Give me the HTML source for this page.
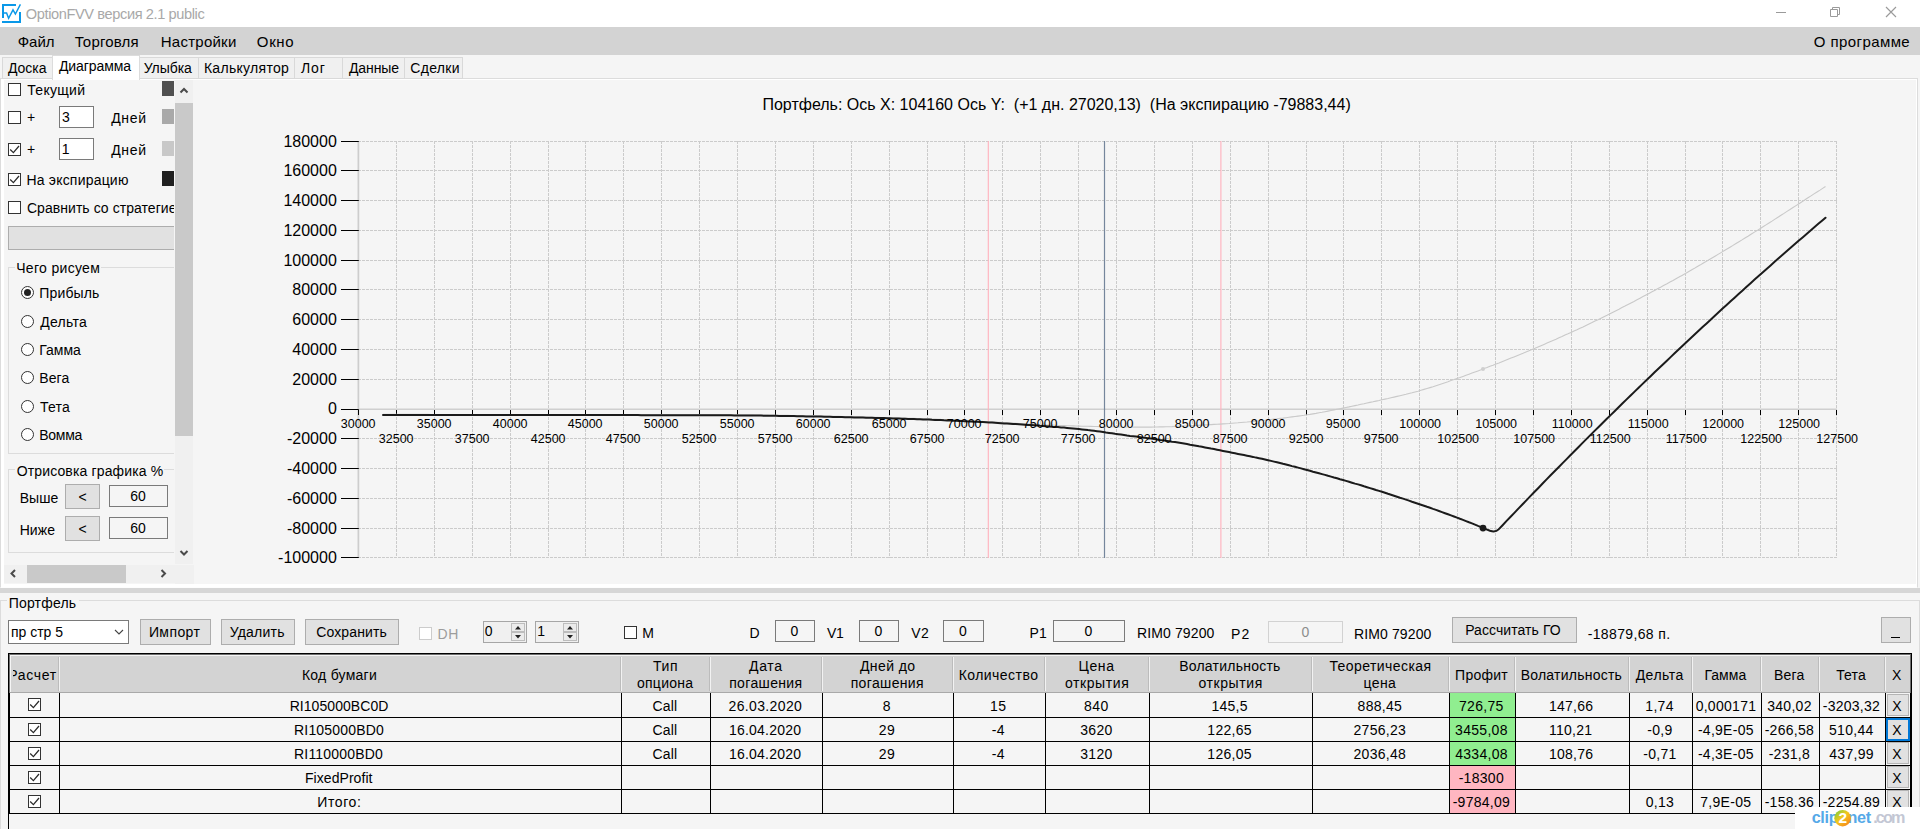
<!DOCTYPE html>
<html lang="ru"><head><meta charset="utf-8"><title>OptionFVV версия 2.1 public</title>
<style>
html,body{margin:0;padding:0}
body{width:1920px;height:829px;overflow:hidden;background:#f5f5f5;position:relative;
font-family:"Liberation Sans",sans-serif;font-size:13.5px;color:#000}
.a{position:absolute;box-sizing:border-box}
.t{position:absolute;white-space:pre;line-height:1;display:block}
svg{position:absolute;left:0;top:0;overflow:visible}
</style></head><body>
<div class="a" style="left:0px;top:0px;width:1920px;height:27px;background:#ffffff;"></div>
<svg width="1920" height="27" viewBox="0 0 1920 27">
<path d="M3 18 V5 H16 M2 22 H20 V12" fill="none" stroke="#0a98e8" stroke-width="2"/>
<path d="M4 13 H6.6 L8.6 18.3 L13 9.8 L15.4 14 L20.4 4.4" fill="none" stroke="#0a98e8" stroke-width="1.45" stroke-linejoin="miter"/>
<g stroke="#9a9a9a" stroke-width="1" fill="none">
<path d="M1776 12.5 H1786"/>
<path d="M1830.5 9.5 H1837.5 V16.5 H1830.5 Z"/>
<path d="M1832.5 9 V7.5 H1839.5 V14.5 H1838"/>
<path d="M1886 7 L1896 17 M1896 7 L1886 17" stroke-width="1.15"/>
</g></svg>
<span class="t" style="left:25.84px;top:7.04px;font-size:14.6px;letter-spacing:-0.392px;color:#a8a8a8;">OptionFVV версия 2.1 public</span>
<div class="a" style="left:0px;top:27px;width:1920px;height:28px;background:#d3d3d3;"></div>
<span class="t" style="left:17.64px;top:34.20px;font-size:15px;letter-spacing:0.017px;">Файл</span>
<span class="t" style="left:74.70px;top:34.20px;font-size:15px;letter-spacing:0.189px;">Торговля</span>
<span class="t" style="left:160.80px;top:34.20px;font-size:15px;letter-spacing:0.244px;">Настройки</span>
<span class="t" style="left:256.82px;top:34.20px;font-size:15px;letter-spacing:0.646px;">Окно</span>
<span class="t" style="left:1813.83px;top:34.20px;font-size:15px;letter-spacing:0.412px;">О программе</span>
<div class="a" style="left:0px;top:78px;width:1918px;height:510px;background:#ffffff;border:1px solid #dcdcdc;border-bottom-color:#fdfdfd;"></div>
<div class="a" style="left:4px;top:80px;width:1912px;height:504px;background:#f5f5f5;"></div>
<div class="a" style="left:2px;top:57px;width:51px;height:22px;background:#f0f0f0;border:1px solid #d9d9d9;"></div>
<span class="t" style="left:7.93px;top:61.15px;font-size:14px;letter-spacing:-0.029px;">Доска</span>
<div class="a" style="left:139px;top:57px;width:61px;height:22px;background:#f0f0f0;border:1px solid #d9d9d9;"></div>
<span class="t" style="left:143.65px;top:61.15px;font-size:14px;letter-spacing:-0.044px;">Улыбка</span>
<div class="a" style="left:198px;top:57px;width:98px;height:22px;background:#f0f0f0;border:1px solid #d9d9d9;"></div>
<span class="t" style="left:203.88px;top:61.15px;font-size:14px;letter-spacing:0.300px;">Калькулятор</span>
<div class="a" style="left:294px;top:57px;width:50px;height:22px;background:#f0f0f0;border:1px solid #d9d9d9;"></div>
<span class="t" style="left:300.89px;top:61.15px;font-size:14px;letter-spacing:0.953px;">Лог</span>
<div class="a" style="left:342px;top:57px;width:64px;height:22px;background:#f0f0f0;border:1px solid #d9d9d9;"></div>
<span class="t" style="left:348.93px;top:61.15px;font-size:14px;letter-spacing:-0.082px;">Данные</span>
<div class="a" style="left:404px;top:57px;width:59px;height:22px;background:#f0f0f0;border:1px solid #d9d9d9;"></div>
<span class="t" style="left:410.30px;top:61.15px;font-size:14px;letter-spacing:0.304px;">Сделки</span>
<div class="a" style="left:52px;top:55px;width:88px;height:25px;background:#ffffff;border:1px solid #dcdcdc;border-bottom:none;"></div>
<span class="t" style="left:58.93px;top:59.15px;font-size:14px;letter-spacing:-0.087px;">Диаграмма</span>
<div class="a" style="left:8px;top:83px;width:13px;height:13px;background:#ffffff;border:1px solid #333333;"></div>
<span class="t" style="left:27.32px;top:82.65px;font-size:14.0px;letter-spacing:0.277px;">Текущий</span>
<div class="a" style="left:162px;top:81px;width:12px;height:15px;background:#505050;"></div>
<div class="a" style="left:8px;top:111px;width:13px;height:13px;background:#ffffff;border:1px solid #333333;"></div>
<span class="t" style="left:26.94px;top:109.95px;font-size:14.0px;">+</span>
<div class="a" style="left:59px;top:106px;width:35px;height:22px;background:#ffffff;border:1px solid #7a7a7a;"></div>
<span class="t" style="left:61.88px;top:109.95px;font-size:14.0px;">3</span>
<span class="t" style="left:111.13px;top:110.55px;font-size:14.0px;letter-spacing:0.740px;">Дней</span>
<div class="a" style="left:162px;top:109px;width:12px;height:15px;background:#a9a9a9;"></div>
<div class="a" style="left:8px;top:143px;width:13px;height:13px;background:#ffffff;border:1px solid #333333;"></div>
<svg width="13" height="13" viewBox="0 0 13 13" style="left:8px;top:143px"><path d="M2.2 6.5 L5.4 9.6 L11 3.0" fill="none" stroke="#2a2a2a" stroke-width="1.25"/></svg>
<span class="t" style="left:26.94px;top:141.95px;font-size:14.0px;">+</span>
<div class="a" style="left:59px;top:138px;width:35px;height:22px;background:#ffffff;border:1px solid #7a7a7a;"></div>
<span class="t" style="left:61.75px;top:141.95px;font-size:14.0px;">1</span>
<span class="t" style="left:111.13px;top:142.75px;font-size:14.0px;letter-spacing:0.740px;">Дней</span>
<div class="a" style="left:162px;top:141px;width:12px;height:15px;background:#c8c8c8;"></div>
<div class="a" style="left:8px;top:173px;width:13px;height:13px;background:#ffffff;border:1px solid #333333;"></div>
<svg width="13" height="13" viewBox="0 0 13 13" style="left:8px;top:173px"><path d="M2.2 6.5 L5.4 9.6 L11 3.0" fill="none" stroke="#2a2a2a" stroke-width="1.25"/></svg>
<span class="t" style="left:26.48px;top:172.65px;font-size:14.0px;letter-spacing:0.199px;">На экспирацию</span>
<div class="a" style="left:162px;top:171px;width:12px;height:15px;background:#202020;"></div>
<div class="a" style="left:8px;top:201px;width:13px;height:13px;background:#ffffff;border:1px solid #333333;"></div>
<div class="a" style="left:26px;top:198px;width:148px;height:20px;overflow:hidden">
<span class="t" style="left:0.90px;top:2.65px;font-size:14.0px;letter-spacing:0.055px;">Сравнить со стратегией</span>
</div>
<div class="a" style="left:8px;top:226px;width:166px;height:24px;background:#e1e1e1;border:1px solid #adadad;border-right:none;"></div>
<div class="a" style="left:8px;top:267px;width:166px;height:187px;border:1px solid #dcdcdc;border-right:none;"></div>
<div class="a" style="left:15px;top:260px;width:86px;height:14px;background:#f5f5f5;"></div>
<span class="t" style="left:16.21px;top:261.15px;font-size:14.0px;letter-spacing:0.318px;">Чего рисуем</span>
<div class="a" style="left:21.0px;top:286.0px;width:13px;height:13px;background:#ffffff;border:1px solid #333333;border-radius:50%;"></div>
<div class="a" style="left:24.0px;top:289.0px;width:7px;height:7px;background:#222222;border-radius:50%;"></div>
<span class="t" style="left:39.28px;top:286.15px;font-size:14.0px;letter-spacing:0.149px;">Прибыль</span>
<div class="a" style="left:21.0px;top:315.0px;width:13px;height:13px;background:#ffffff;border:1px solid #333333;border-radius:50%;"></div>
<span class="t" style="left:40.33px;top:315.15px;font-size:14.0px;letter-spacing:0.241px;">Дельта</span>
<div class="a" style="left:21.0px;top:343.0px;width:13px;height:13px;background:#ffffff;border:1px solid #333333;border-radius:50%;"></div>
<span class="t" style="left:39.28px;top:343.15px;font-size:14.0px;letter-spacing:-0.025px;">Гамма</span>
<div class="a" style="left:21.0px;top:371.0px;width:13px;height:13px;background:#ffffff;border:1px solid #333333;border-radius:50%;"></div>
<span class="t" style="left:39.28px;top:371.15px;font-size:14.0px;letter-spacing:0.097px;">Вега</span>
<div class="a" style="left:21.0px;top:400.0px;width:13px;height:13px;background:#ffffff;border:1px solid #333333;border-radius:50%;"></div>
<span class="t" style="left:40.12px;top:400.15px;font-size:14.0px;letter-spacing:0.165px;">Тета</span>
<div class="a" style="left:21.0px;top:428.0px;width:13px;height:13px;background:#ffffff;border:1px solid #333333;border-radius:50%;"></div>
<span class="t" style="left:39.28px;top:428.15px;font-size:14.0px;letter-spacing:-0.262px;">Вомма</span>
<div class="a" style="left:8px;top:469px;width:166px;height:84px;border:1px solid #dcdcdc;border-right:none;"></div>
<div class="a" style="left:15px;top:463px;width:149px;height:14px;background:#f5f5f5;"></div>
<span class="t" style="left:16.67px;top:464.45px;font-size:14.0px;letter-spacing:0.141px;">Отрисовка графика %</span>
<span class="t" style="left:19.68px;top:490.95px;font-size:14.0px;letter-spacing:0.095px;">Выше</span>
<div class="a" style="left:65px;top:484px;width:35px;height:25px;background:#e1e1e1;border:1px solid #adadad;"></div>
<span class="t" style="left:78.40px;top:489.65px;font-size:14.0px;">&lt;</span>
<div class="a" style="left:109px;top:485px;width:59px;height:22px;background:#f5f5f5;border:1px solid #7a7a7a;"></div>
<span class="t" style="left:130.14px;top:488.95px;font-size:14.0px;">60</span>
<span class="t" style="left:19.68px;top:522.75px;font-size:14.0px;letter-spacing:0.082px;">Ниже</span>
<div class="a" style="left:65px;top:516px;width:35px;height:25px;background:#e1e1e1;border:1px solid #adadad;"></div>
<span class="t" style="left:78.40px;top:521.65px;font-size:14.0px;">&lt;</span>
<div class="a" style="left:109px;top:517px;width:59px;height:22px;background:#f5f5f5;border:1px solid #7a7a7a;"></div>
<span class="t" style="left:130.14px;top:520.75px;font-size:14.0px;">60</span>
<div class="a" style="left:175px;top:80px;width:18px;height:484px;background:#f0f0f0;"></div>
<div class="a" style="left:175px;top:103px;width:18px;height:333px;background:#c9c9c9;"></div>
<div class="a" style="left:4px;top:565px;width:190px;height:18px;background:#f0f0f0;"></div>
<div class="a" style="left:27px;top:565px;width:99px;height:18px;background:#c9c9c9;"></div>
<div class="a" style="left:175px;top:565px;width:19px;height:19px;background:#f0f0f0;"></div>
<svg width="1920" height="829"><g fill="none" stroke="#4a4a4a" stroke-width="2"><path d="M180.5 92.5 L184 89 L187.5 92.5"/><path d="M180.5 551 L184 554.5 L187.5 551"/><path d="M15 570 L11.5 573.5 L15 577"/><path d="M161.5 570 L165 573.5 L161.5 577"/></g></svg>
<div class="a" style="left:0px;top:588px;width:1920px;height:5px;background:#d6d6d6;"></div>
<div class="a" style="left:0px;top:593px;width:1920px;height:236px;background:#f5f5f5;"></div>
<svg width="1920" height="829" viewBox="0 0 1920 829" font-family="Liberation Sans, sans-serif">
<path d="M396.5 141V558M434.5 141V558M472.5 141V558M510.5 141V558M548.5 141V558M585.5 141V558M623.5 141V558M661.5 141V558M699.5 141V558M737.5 141V558M775.5 141V558M813.5 141V558M851.5 141V558M889.5 141V558M927.5 141V558M964.5 141V558M1002.5 141V558M1040.5 141V558M1078.5 141V558M1116.5 141V558M1154.5 141V558M1192.5 141V558M1230.5 141V558M1268.5 141V558M1306.5 141V558M1343.5 141V558M1381.5 141V558M1419.5 141V558M1457.5 141V558M1495.5 141V558M1533.5 141V558M1571.5 141V558M1609.5 141V558M1647.5 141V558M1685.5 141V558M1722.5 141V558M1760.5 141V558M1798.5 141V558M1836.5 141V558M358 141.5H1837M358 170.5H1837M358 200.5H1837M358 230.5H1837M358 260.5H1837M358 289.5H1837M358 319.5H1837M358 349.5H1837M358 379.5H1837M358 438.5H1837M358 468.5H1837M358 498.5H1837M358 528.5H1837M358 557.5H1837" fill="none" stroke="#cbcbcb" stroke-width="1" stroke-dasharray="3 1"/>
<path d="M358.4 141V558" stroke="#cdcdcd" stroke-width="1.7" fill="none"/>
<path d="M358 409.3H1837" stroke="#cfcfcf" stroke-width="1.5" fill="none"/>
<path d="M341 141.5H358.8M341 170.5H358.8M341 200.5H358.8M341 230.5H358.8M341 260.5H358.8M341 289.5H358.8M341 319.5H358.8M341 349.5H358.8M341 379.5H358.8M341 409.5H358.8M341 438.5H358.8M341 468.5H358.8M341 498.5H358.8M341 528.5H358.8M341 557.5H358.8M358.5 410V415M396.5 410V415M434.5 410V415M472.5 410V415M510.5 410V415M548.5 410V415M585.5 410V415M623.5 410V415M661.5 410V415M699.5 410V415M737.5 410V415M775.5 410V415M813.5 410V415M851.5 410V415M889.5 410V415M927.5 410V415M964.5 410V415M1002.5 410V415M1040.5 410V415M1078.5 410V415M1116.5 410V415M1154.5 410V415M1192.5 410V415M1230.5 410V415M1268.5 410V415M1306.5 410V415M1343.5 410V415M1381.5 410V415M1419.5 410V415M1457.5 410V415M1495.5 410V415M1533.5 410V415M1571.5 410V415M1609.5 410V415M1647.5 410V415M1685.5 410V415M1722.5 410V415M1760.5 410V415M1798.5 410V415M1836.5 410V415" stroke="#000" stroke-width="1" fill="none"/>
<path d="M988.3 141V558M1220.9 141V558" stroke="#ffb3bf" stroke-width="1.15" fill="none"/>
<path d="M1104.5 141V558" stroke="#75869c" stroke-width="1.2" fill="none"/>
<path d="M383.0 414.4L386.0 414.4L389.0 414.4L392.0 414.4L395.0 414.4L398.0 414.4L401.0 414.4L404.0 414.4L407.0 414.4L410.0 414.4L413.0 414.4L416.0 414.4L419.0 414.4L422.0 414.4L425.0 414.4L428.0 414.4L431.0 414.5L434.0 414.5L437.0 414.5L440.0 414.5L443.0 414.5L446.0 414.5L449.0 414.5L452.0 414.5L455.0 414.5L458.0 414.5L461.0 414.5L464.0 414.5L467.0 414.5L470.0 414.5L473.0 414.5L476.0 414.5L479.0 414.5L482.0 414.5L485.0 414.5L488.0 414.5L491.0 414.5L494.0 414.5L497.0 414.5L500.0 414.5L503.0 414.5L506.0 414.5L509.0 414.5L512.0 414.5L515.0 414.5L518.0 414.5L521.0 414.5L524.0 414.5L527.0 414.5L530.0 414.5L533.0 414.5L536.0 414.5L539.0 414.5L542.0 414.5L545.0 414.5L548.0 414.5L551.0 414.5L554.0 414.5L557.0 414.5L560.0 414.5L563.0 414.5L566.0 414.5L569.0 414.5L572.0 414.5L575.0 414.5L578.0 414.5L581.0 414.5L584.0 414.5L587.0 414.5L590.0 414.5L593.0 414.5L596.0 414.5L599.0 414.5L602.0 414.5L605.0 414.5L608.0 414.5L611.0 414.5L614.0 414.5L617.0 414.5L620.0 414.5L623.0 414.5L626.0 414.5L629.0 414.5L632.0 414.5L635.0 414.5L638.0 414.5L641.0 414.5L644.0 414.5L647.0 414.5L650.0 414.5L653.0 414.5L656.0 414.5L659.0 414.5L662.0 414.5L665.0 414.5L668.0 414.5L671.0 414.5L674.0 414.5L677.0 414.5L680.0 414.5L683.0 414.5L686.0 414.5L689.0 414.5L692.0 414.5L695.0 414.5L698.0 414.5L701.0 414.5L704.0 414.6L707.0 414.6L710.0 414.6L713.0 414.6L716.0 414.6L719.0 414.6L722.0 414.7L725.0 414.7L728.0 414.7L731.0 414.7L734.0 414.7L737.0 414.8L740.0 414.8L743.0 414.8L746.0 414.9L749.0 414.9L752.0 414.9L755.0 415.0L758.0 415.0L761.0 415.0L764.0 415.1L767.0 415.1L770.0 415.2L773.0 415.2L776.0 415.2L779.0 415.3L782.0 415.3L785.0 415.4L788.0 415.4L791.0 415.5L794.0 415.5L797.0 415.6L800.0 415.6L803.0 415.7L806.0 415.8L809.0 415.8L812.0 415.9L815.0 415.9L818.0 416.0L821.0 416.1L824.0 416.1L827.0 416.2L830.0 416.2L833.0 416.3L836.0 416.4L839.0 416.4L842.0 416.5L845.0 416.6L848.0 416.6L851.0 416.7L854.0 416.8L857.0 416.9L860.0 416.9L863.0 417.0L866.0 417.1L869.0 417.2L872.0 417.2L875.0 417.3L878.0 417.4L881.0 417.5L884.0 417.6L887.0 417.6L890.0 417.7L893.0 417.8L896.0 417.9L899.0 418.0L902.0 418.1L905.0 418.1L908.0 418.2L911.0 418.3L914.0 418.4L917.0 418.5L920.0 418.6L923.0 418.7L926.0 418.8L929.0 418.9L932.0 419.0L935.0 419.1L938.0 419.2L941.0 419.4L944.0 419.5L947.0 419.6L950.0 419.7L953.0 419.9L956.0 420.0L959.0 420.1L962.0 420.3L965.0 420.4L968.0 420.6L971.0 420.7L974.0 420.9L977.0 421.0L980.0 421.2L983.0 421.4L986.0 421.5L989.0 421.7L992.0 421.9L995.0 422.1L998.0 422.2L1001.0 422.4L1004.0 422.6L1007.0 422.8L1010.0 422.9L1013.0 423.1L1016.0 423.3L1019.0 423.5L1022.0 423.6L1025.0 423.8L1028.0 424.0L1031.0 424.1L1034.0 424.3L1037.0 424.4L1040.0 424.6L1043.0 424.7L1046.0 424.9L1049.0 425.0L1052.0 425.1L1055.0 425.2L1058.0 425.4L1061.0 425.5L1064.0 425.6L1067.0 425.7L1070.0 425.8L1073.0 425.9L1076.0 426.0L1079.0 426.1L1082.0 426.2L1085.0 426.2L1088.0 426.3L1091.0 426.4L1094.0 426.5L1097.0 426.5L1100.0 426.6L1103.0 426.7L1106.0 426.7L1109.0 426.8L1112.0 426.8L1115.0 426.9L1118.0 426.9L1121.0 427.0L1124.0 427.0L1127.0 427.0L1130.0 427.1L1133.0 427.1L1136.0 427.1L1139.0 427.1L1142.0 427.1L1145.0 427.1L1148.0 427.1L1151.0 427.1L1154.0 427.0L1157.0 427.0L1160.0 426.9L1163.0 426.9L1166.0 426.8L1169.0 426.7L1172.0 426.6L1175.0 426.4L1178.0 426.3L1181.0 426.2L1184.0 426.0L1187.0 425.9L1190.0 425.7L1193.0 425.6L1196.0 425.4L1199.0 425.3L1202.0 425.1L1205.0 424.9L1208.0 424.8L1211.0 424.6L1214.0 424.4L1217.0 424.3L1220.0 424.1L1223.0 423.9L1226.0 423.7L1229.0 423.5L1232.0 423.2L1235.0 423.0L1238.0 422.8L1241.0 422.5L1244.0 422.2L1247.0 422.0L1250.0 421.7L1253.0 421.4L1256.0 421.1L1259.0 420.8L1262.0 420.5L1265.0 420.2L1268.0 419.8L1271.0 419.5L1274.0 419.1L1277.0 418.8L1280.0 418.4L1283.0 418.1L1286.0 417.7L1289.0 417.3L1292.0 416.9L1295.0 416.5L1298.0 416.1L1301.0 415.7L1304.0 415.3L1307.0 414.8L1310.0 414.4L1313.0 413.9L1316.0 413.4L1319.0 412.8L1322.0 412.3L1325.0 411.7L1328.0 411.1L1331.0 410.5L1334.0 409.9L1337.0 409.3L1340.0 408.7L1343.0 408.1L1346.0 407.5L1349.0 406.9L1352.0 406.2L1355.0 405.6L1358.0 405.0L1361.0 404.3L1364.0 403.7L1367.0 403.0L1370.0 402.4L1373.0 401.8L1376.0 401.1L1379.0 400.5L1382.0 399.8L1385.0 399.1L1388.0 398.5L1391.0 397.8L1394.0 397.1L1397.0 396.4L1400.0 395.7L1403.0 395.0L1406.0 394.3L1409.0 393.5L1412.0 392.8L1415.0 392.0L1418.0 391.2L1421.0 390.3L1424.0 389.4L1427.0 388.5L1430.0 387.6L1433.0 386.7L1436.0 385.7L1439.0 384.7L1442.0 383.7L1445.0 382.7L1448.0 381.7L1451.0 380.6L1454.0 379.6L1457.0 378.5L1460.0 377.5L1463.0 376.4L1466.0 375.3L1469.0 374.2L1472.0 373.1L1475.0 372.0L1478.0 370.9L1481.0 369.8L1484.0 368.6L1487.0 367.5L1490.0 366.3L1493.0 365.2L1496.0 364.0L1499.0 362.9L1502.0 361.7L1505.0 360.5L1508.0 359.3L1511.0 358.1L1514.0 356.9L1517.0 355.7L1520.0 354.5L1523.0 353.3L1526.0 352.0L1529.0 350.8L1532.0 349.5L1535.0 348.3L1538.0 347.0L1541.0 345.7L1544.0 344.4L1547.0 343.1L1550.0 341.8L1553.0 340.5L1556.0 339.2L1559.0 337.8L1562.0 336.5L1565.0 335.1L1568.0 333.8L1571.0 332.4L1574.0 331.0L1577.0 329.7L1580.0 328.3L1583.0 326.9L1586.0 325.4L1589.0 324.0L1592.0 322.6L1595.0 321.1L1598.0 319.7L1601.0 318.2L1604.0 316.7L1607.0 315.3L1610.0 313.7L1613.0 312.2L1616.0 310.7L1619.0 309.2L1622.0 307.6L1625.0 306.1L1628.0 304.5L1631.0 302.9L1634.0 301.4L1637.0 299.8L1640.0 298.2L1643.0 296.6L1646.0 295.0L1649.0 293.4L1652.0 291.8L1655.0 290.2L1658.0 288.6L1661.0 287.0L1664.0 285.3L1667.0 283.7L1670.0 282.0L1673.0 280.4L1676.0 278.7L1679.0 277.1L1682.0 275.4L1685.0 273.7L1688.0 272.0L1691.0 270.3L1694.0 268.6L1697.0 266.8L1700.0 265.1L1703.0 263.3L1706.0 261.6L1709.0 259.8L1712.0 258.0L1715.0 256.2L1718.0 254.4L1721.0 252.6L1724.0 250.8L1727.0 249.0L1730.0 247.2L1733.0 245.4L1736.0 243.5L1739.0 241.7L1742.0 239.9L1745.0 238.0L1748.0 236.2L1751.0 234.3L1754.0 232.4L1757.0 230.6L1760.0 228.7L1763.0 226.8L1766.0 224.9L1769.0 223.0L1772.0 221.1L1775.0 219.1L1778.0 217.2L1781.0 215.3L1784.0 213.4L1787.0 211.4L1790.0 209.5L1793.0 207.5L1796.0 205.6L1799.0 203.7L1802.0 201.7L1805.0 199.8L1808.0 197.8L1811.0 195.9L1814.0 193.9L1817.0 192.0L1820.0 190.1L1823.0 188.1L1825.5 186.5" fill="none" stroke="#c9c9c9" stroke-width="1.1"/>
<circle cx="1483" cy="369" r="2" fill="#cfcfcf"/>
<path d="M383.0 415.0L386.0 415.0L389.0 415.0L392.0 415.0L395.0 415.0L398.0 415.0L401.0 415.0L404.0 415.0L407.0 415.0L410.0 415.0L413.0 415.0L416.0 415.0L419.0 415.0L422.0 415.0L425.0 415.0L428.0 415.0L431.0 415.0L434.0 415.0L437.0 415.0L440.0 415.0L443.0 415.0L446.0 415.0L449.0 415.0L452.0 415.0L455.0 415.0L458.0 415.0L461.0 415.0L464.0 415.0L467.0 415.0L470.0 415.0L473.0 415.0L476.0 415.0L479.0 415.0L482.0 415.0L485.0 415.0L488.0 415.0L491.0 415.0L494.0 415.0L497.0 415.0L500.0 415.0L503.0 415.0L506.0 415.0L509.0 415.0L512.0 415.0L515.0 415.0L518.0 415.0L521.0 415.0L524.0 415.0L527.0 415.0L530.0 415.0L533.0 415.0L536.0 415.0L539.0 415.0L542.0 415.0L545.0 415.0L548.0 415.0L551.0 415.0L554.0 415.0L557.0 415.0L560.0 415.1L563.0 415.1L566.0 415.1L569.0 415.1L572.0 415.1L575.0 415.1L578.0 415.1L581.0 415.1L584.0 415.1L587.0 415.1L590.0 415.1L593.0 415.1L596.0 415.1L599.0 415.1L602.0 415.1L605.0 415.1L608.0 415.1L611.0 415.1L614.0 415.1L617.0 415.1L620.0 415.1L623.0 415.1L626.0 415.1L629.0 415.1L632.0 415.1L635.0 415.1L638.0 415.1L641.0 415.2L644.0 415.2L647.0 415.2L650.0 415.2L653.0 415.2L656.0 415.2L659.0 415.2L662.0 415.2L665.0 415.2L668.0 415.2L671.0 415.2L674.0 415.2L677.0 415.2L680.0 415.2L683.0 415.2L686.0 415.2L689.0 415.2L692.0 415.2L695.0 415.2L698.0 415.2L701.0 415.2L704.0 415.2L707.0 415.2L710.0 415.2L713.0 415.3L716.0 415.3L719.0 415.3L722.0 415.3L725.0 415.3L728.0 415.3L731.0 415.3L734.0 415.4L737.0 415.4L740.0 415.4L743.0 415.4L746.0 415.5L749.0 415.5L752.0 415.5L755.0 415.5L758.0 415.6L761.0 415.6L764.0 415.7L767.0 415.7L770.0 415.7L773.0 415.8L776.0 415.8L779.0 415.9L782.0 415.9L785.0 416.0L788.0 416.0L791.0 416.1L794.0 416.1L797.0 416.2L800.0 416.2L803.0 416.3L806.0 416.4L809.0 416.4L812.0 416.5L815.0 416.5L818.0 416.6L821.0 416.6L824.0 416.7L827.0 416.8L830.0 416.8L833.0 416.9L836.0 417.0L839.0 417.0L842.0 417.1L845.0 417.2L848.0 417.2L851.0 417.3L854.0 417.4L857.0 417.4L860.0 417.5L863.0 417.6L866.0 417.7L869.0 417.7L872.0 417.8L875.0 417.9L878.0 418.0L881.0 418.1L884.0 418.1L887.0 418.2L890.0 418.3L893.0 418.4L896.0 418.5L899.0 418.6L902.0 418.7L905.0 418.8L908.0 418.9L911.0 419.0L914.0 419.1L917.0 419.2L920.0 419.3L923.0 419.4L926.0 419.5L929.0 419.6L932.0 419.8L935.0 419.9L938.0 420.0L941.0 420.1L944.0 420.3L947.0 420.4L950.0 420.5L953.0 420.7L956.0 420.8L959.0 420.9L962.0 421.1L965.0 421.2L968.0 421.4L971.0 421.5L974.0 421.7L977.0 421.8L980.0 422.0L983.0 422.1L986.0 422.3L989.0 422.5L992.0 422.6L995.0 422.8L998.0 423.0L1001.0 423.2L1004.0 423.4L1007.0 423.5L1010.0 423.7L1013.0 423.9L1016.0 424.1L1019.0 424.3L1022.0 424.5L1025.0 424.7L1028.0 424.9L1031.0 425.1L1034.0 425.3L1037.0 425.5L1040.0 425.8L1043.0 426.0L1046.0 426.2L1049.0 426.4L1052.0 426.7L1055.0 426.9L1058.0 427.1L1061.0 427.4L1064.0 427.6L1067.0 427.9L1070.0 428.2L1073.0 428.5L1076.0 428.8L1079.0 429.1L1082.0 429.4L1085.0 429.7L1088.0 430.1L1091.0 430.4L1094.0 430.8L1097.0 431.2L1100.0 431.6L1103.0 432.0L1106.0 432.5L1109.0 432.9L1112.0 433.3L1115.0 433.8L1118.0 434.2L1121.0 434.6L1124.0 435.0L1127.0 435.5L1130.0 435.9L1133.0 436.2L1136.0 436.6L1139.0 437.0L1142.0 437.4L1145.0 437.8L1148.0 438.2L1151.0 438.6L1154.0 439.0L1157.0 439.4L1160.0 439.9L1163.0 440.3L1166.0 440.8L1169.0 441.2L1172.0 441.7L1175.0 442.1L1178.0 442.6L1181.0 443.1L1184.0 443.6L1187.0 444.1L1190.0 444.7L1193.0 445.2L1196.0 445.7L1199.0 446.3L1202.0 446.8L1205.0 447.4L1208.0 448.0L1211.0 448.6L1214.0 449.1L1217.0 449.7L1220.0 450.3L1223.0 450.9L1226.0 451.5L1229.0 452.1L1232.0 452.7L1235.0 453.3L1238.0 453.9L1241.0 454.5L1244.0 455.1L1247.0 455.7L1250.0 456.3L1253.0 456.9L1256.0 457.6L1259.0 458.2L1262.0 458.8L1265.0 459.5L1268.0 460.2L1271.0 460.9L1274.0 461.6L1277.0 462.3L1280.0 463.0L1283.0 463.8L1286.0 464.5L1289.0 465.3L1292.0 466.1L1295.0 466.8L1298.0 467.6L1301.0 468.4L1304.0 469.2L1307.0 470.0L1310.0 470.8L1313.0 471.7L1316.0 472.5L1319.0 473.3L1322.0 474.1L1325.0 474.9L1328.0 475.8L1331.0 476.6L1334.0 477.5L1337.0 478.3L1340.0 479.2L1343.0 480.0L1346.0 480.9L1349.0 481.8L1352.0 482.7L1355.0 483.6L1358.0 484.4L1361.0 485.3L1364.0 486.3L1367.0 487.2L1370.0 488.1L1373.0 489.0L1376.0 490.0L1379.0 490.9L1382.0 491.8L1385.0 492.8L1388.0 493.8L1391.0 494.7L1394.0 495.7L1397.0 496.7L1400.0 497.7L1403.0 498.6L1406.0 499.6L1409.0 500.6L1412.0 501.7L1415.0 502.7L1418.0 503.7L1421.0 504.7L1424.0 505.7L1427.0 506.8L1430.0 507.8L1433.0 508.9L1436.0 509.9L1439.0 511.0L1442.0 512.1L1445.0 513.2L1448.0 514.3L1451.0 515.4L1454.0 516.5L1457.0 517.6L1460.0 518.8L1463.0 519.9L1466.0 521.1L1469.0 522.3L1472.0 523.4L1475.0 524.6L1478.0 525.9L1481.0 527.1L1484.0 528.3L1487.0 529.6L1490.0 530.8Q1495.6 532.6 1498.6 529.4L1502.6 525.2L1506.6 520.9L1510.6 516.8L1514.6 512.6L1518.6 508.4L1522.6 504.2L1526.6 500.1L1530.6 495.9L1534.6 491.8L1538.6 487.7L1542.6 483.5L1546.6 479.4L1550.6 475.3L1554.6 471.3L1558.6 467.2L1562.6 463.1L1566.6 459.1L1570.6 455.0L1574.6 451.0L1578.6 447.0L1582.6 442.9L1586.6 438.9L1590.6 434.9L1594.6 430.9L1598.6 427.0L1602.6 423.0L1606.6 419.0L1610.6 415.1L1614.6 411.2L1618.6 407.2L1622.6 403.3L1626.6 399.4L1630.6 395.5L1634.6 391.6L1638.6 387.8L1642.6 383.9L1646.6 380.0L1650.6 376.2L1654.6 372.3L1658.6 368.5L1662.6 364.7L1666.6 360.9L1670.6 357.1L1674.6 353.3L1678.6 349.5L1682.6 345.8L1686.6 342.0L1690.6 338.3L1694.6 334.5L1698.6 330.8L1702.6 327.1L1706.6 323.4L1710.6 319.7L1714.6 316.0L1718.6 312.3L1722.6 308.6L1726.6 305.0L1730.6 301.3L1734.6 297.7L1738.6 294.1L1742.6 290.4L1746.6 286.8L1750.6 283.2L1754.6 279.6L1758.6 276.1L1762.6 272.5L1766.6 268.9L1770.6 265.4L1774.6 261.8L1778.6 258.3L1782.6 254.8L1786.6 251.3L1790.6 247.8L1794.6 244.3L1798.6 240.8L1802.6 237.4L1806.6 233.9L1810.6 230.4L1814.6 227.0L1818.6 223.6L1822.6 220.2L1825.5 217.7" fill="none" stroke="#1b1b1b" stroke-width="2" stroke-linejoin="round" stroke-linecap="round"/>
<circle cx="1483" cy="528.1" r="3.4" fill="#1b1b1b"/>
<text x="336.8" y="146.9" font-size="16" text-anchor="end">180000</text>
<text x="336.8" y="175.9" font-size="16" text-anchor="end">160000</text>
<text x="336.8" y="205.9" font-size="16" text-anchor="end">140000</text>
<text x="336.8" y="235.9" font-size="16" text-anchor="end">120000</text>
<text x="336.8" y="265.9" font-size="16" text-anchor="end">100000</text>
<text x="336.8" y="294.9" font-size="16" text-anchor="end">80000</text>
<text x="336.8" y="324.9" font-size="16" text-anchor="end">60000</text>
<text x="336.8" y="354.9" font-size="16" text-anchor="end">40000</text>
<text x="336.8" y="384.9" font-size="16" text-anchor="end">20000</text>
<text x="336.8" y="413.9" font-size="16" text-anchor="end">0</text>
<text x="336.8" y="443.9" font-size="16" text-anchor="end">-20000</text>
<text x="336.8" y="473.9" font-size="16" text-anchor="end">-40000</text>
<text x="336.8" y="503.9" font-size="16" text-anchor="end">-60000</text>
<text x="336.8" y="533.9" font-size="16" text-anchor="end">-80000</text>
<text x="336.8" y="562.9" font-size="16" text-anchor="end">-100000</text>
<text x="358.2" y="428.0" font-size="12.5" text-anchor="middle">30000</text>
<text x="396.2" y="443.1" font-size="12.5" text-anchor="middle">32500</text>
<text x="434.2" y="428.0" font-size="12.5" text-anchor="middle">35000</text>
<text x="472.2" y="443.1" font-size="12.5" text-anchor="middle">37500</text>
<text x="510.2" y="428.0" font-size="12.5" text-anchor="middle">40000</text>
<text x="548.2" y="443.1" font-size="12.5" text-anchor="middle">42500</text>
<text x="585.2" y="428.0" font-size="12.5" text-anchor="middle">45000</text>
<text x="623.2" y="443.1" font-size="12.5" text-anchor="middle">47500</text>
<text x="661.2" y="428.0" font-size="12.5" text-anchor="middle">50000</text>
<text x="699.2" y="443.1" font-size="12.5" text-anchor="middle">52500</text>
<text x="737.2" y="428.0" font-size="12.5" text-anchor="middle">55000</text>
<text x="775.2" y="443.1" font-size="12.5" text-anchor="middle">57500</text>
<text x="813.2" y="428.0" font-size="12.5" text-anchor="middle">60000</text>
<text x="851.2" y="443.1" font-size="12.5" text-anchor="middle">62500</text>
<text x="889.2" y="428.0" font-size="12.5" text-anchor="middle">65000</text>
<text x="927.2" y="443.1" font-size="12.5" text-anchor="middle">67500</text>
<text x="964.2" y="428.0" font-size="12.5" text-anchor="middle">70000</text>
<text x="1002.2" y="443.1" font-size="12.5" text-anchor="middle">72500</text>
<text x="1040.2" y="428.0" font-size="12.5" text-anchor="middle">75000</text>
<text x="1078.2" y="443.1" font-size="12.5" text-anchor="middle">77500</text>
<text x="1116.2" y="428.0" font-size="12.5" text-anchor="middle">80000</text>
<text x="1154.2" y="443.1" font-size="12.5" text-anchor="middle">82500</text>
<text x="1192.2" y="428.0" font-size="12.5" text-anchor="middle">85000</text>
<text x="1230.2" y="443.1" font-size="12.5" text-anchor="middle">87500</text>
<text x="1268.2" y="428.0" font-size="12.5" text-anchor="middle">90000</text>
<text x="1306.2" y="443.1" font-size="12.5" text-anchor="middle">92500</text>
<text x="1343.2" y="428.0" font-size="12.5" text-anchor="middle">95000</text>
<text x="1381.2" y="443.1" font-size="12.5" text-anchor="middle">97500</text>
<text x="1420.2" y="428.0" font-size="12.5" text-anchor="middle">100000</text>
<text x="1458.2" y="443.1" font-size="12.5" text-anchor="middle">102500</text>
<text x="1496.2" y="428.0" font-size="12.5" text-anchor="middle">105000</text>
<text x="1534.2" y="443.1" font-size="12.5" text-anchor="middle">107500</text>
<text x="1572.2" y="428.0" font-size="12.5" text-anchor="middle">110000</text>
<text x="1610.2" y="443.1" font-size="12.5" text-anchor="middle">112500</text>
<text x="1648.2" y="428.0" font-size="12.5" text-anchor="middle">115000</text>
<text x="1686.2" y="443.1" font-size="12.5" text-anchor="middle">117500</text>
<text x="1723.2" y="428.0" font-size="12.5" text-anchor="middle">120000</text>
<text x="1761.2" y="443.1" font-size="12.5" text-anchor="middle">122500</text>
<text x="1799.2" y="428.0" font-size="12.5" text-anchor="middle">125000</text>
<text x="1837.2" y="443.1" font-size="12.5" text-anchor="middle">127500</text>
<text x="1056.6" y="109.6" font-size="16" text-anchor="middle" xml:space="preserve">Портфель: Ось X: 104160 Ось Y:  (+1 дн. 27020,13)  (На экспирацию -79883,44)</text>
</svg>
<div class="a" style="left:0px;top:600px;width:1920px;height:240px;border:1px solid #dcdcdc;"></div>
<div class="a" style="left:7px;top:594px;width:72px;height:14px;background:#f5f5f5;"></div>
<span class="t" style="left:8.68px;top:595.65px;font-size:14.0px;letter-spacing:0.205px;">Портфель</span>
<div class="a" style="left:8px;top:620px;width:121px;height:24px;background:#ffffff;border:1px solid #7a7a7a;"></div>
<span class="t" style="left:10.96px;top:624.65px;font-size:14.0px;letter-spacing:-0.011px;">пр стр 5</span>
<svg width="1920" height="829"><path d="M115 630 L119 634 L123 630" fill="none" stroke="#444" stroke-width="1.1"/></svg>
<div class="a" style="left:140px;top:619px;width:71px;height:26px;background:#e1e1e1;border:1px solid #adadad;"></div>
<span class="t" style="left:148.88px;top:625.15px;font-size:14.0px;letter-spacing:0.417px;">Импорт</span>
<div class="a" style="left:221px;top:619px;width:74px;height:26px;background:#e1e1e1;border:1px solid #adadad;"></div>
<span class="t" style="left:229.65px;top:625.15px;font-size:14.0px;letter-spacing:0.242px;">Удалить</span>
<div class="a" style="left:305px;top:619px;width:94px;height:26px;background:#e1e1e1;border:1px solid #adadad;"></div>
<span class="t" style="left:316.25px;top:625.15px;font-size:14.0px;letter-spacing:0.114px;">Сохранить</span>
<div class="a" style="left:419px;top:627px;width:13px;height:13px;background:#ffffff;border:1px solid #cccccc;"></div>
<span class="t" style="left:437.38px;top:627.15px;font-size:14.0px;letter-spacing:0.810px;color:#9d9d9d;">DH</span>
<div class="a" style="left:483px;top:621px;width:44px;height:22px;background:#f0f0f0;border:1px solid #a6a6a6;"></div>
<span class="t" style="left:484.68px;top:624.15px;font-size:14.0px;">0</span>
<div class="a" style="left:511px;top:623px;width:14px;height:9px;background:#ebebeb;border:1px solid #bdbdbd;"></div>
<div class="a" style="left:511px;top:632px;width:14px;height:9px;background:#ebebeb;border:1px solid #bdbdbd;"></div>
<svg width="1920" height="829"><path d="M515 629.5 L518 626 L521 629.5 Z M515 635 L518 638.5 L521 635 Z" fill="#222"/></svg>
<div class="a" style="left:535px;top:621px;width:44px;height:22px;background:#f0f0f0;border:1px solid #a6a6a6;"></div>
<span class="t" style="left:537.15px;top:624.15px;font-size:14.0px;">1</span>
<div class="a" style="left:563px;top:623px;width:14px;height:9px;background:#ebebeb;border:1px solid #bdbdbd;"></div>
<div class="a" style="left:563px;top:632px;width:14px;height:9px;background:#ebebeb;border:1px solid #bdbdbd;"></div>
<svg width="1920" height="829"><path d="M567 629.5 L570 626 L573 629.5 Z M567 635 L570 638.5 L573 635 Z" fill="#222"/></svg>
<div class="a" style="left:624px;top:626px;width:13px;height:13px;background:#ffffff;border:1px solid #333333;"></div>
<span class="t" style="left:642.18px;top:626.15px;font-size:14.0px;">M</span>
<span class="t" style="left:749.48px;top:626.15px;font-size:14.0px;">D</span>
<div class="a" style="left:775px;top:620px;width:40px;height:22px;background:#f5f5f5;border:1px solid #7a7a7a;"></div>
<span class="t" style="left:790.62px;top:623.95px;font-size:14.0px;">0</span>
<span class="t" style="left:826.97px;top:626.15px;font-size:14.0px;letter-spacing:-0.415px;">V1</span>
<div class="a" style="left:859px;top:620px;width:40px;height:22px;background:#f5f5f5;border:1px solid #7a7a7a;"></div>
<span class="t" style="left:874.62px;top:623.95px;font-size:14.0px;">0</span>
<span class="t" style="left:911.26px;top:626.15px;font-size:14.0px;letter-spacing:0.385px;">V2</span>
<div class="a" style="left:943px;top:620px;width:41px;height:22px;background:#f5f5f5;border:1px solid #7a7a7a;"></div>
<span class="t" style="left:959.12px;top:623.95px;font-size:14.0px;">0</span>
<span class="t" style="left:1029.48px;top:626.15px;font-size:14.0px;letter-spacing:0.270px;">P1</span>
<div class="a" style="left:1053px;top:620px;width:72px;height:22px;background:#f5f5f5;border:1px solid #7a7a7a;"></div>
<span class="t" style="left:1084.62px;top:623.95px;font-size:14.0px;">0</span>
<span class="t" style="left:1137.08px;top:626.15px;font-size:14.0px;letter-spacing:0.109px;">RIM0 79200</span>
<span class="t" style="left:1231.08px;top:626.75px;font-size:14.0px;letter-spacing:1.070px;">P2</span>
<div class="a" style="left:1268px;top:621px;width:75px;height:22px;background:#f5f5f5;border:1px solid #d2d2d2;"></div>
<span class="t" style="left:1301.41px;top:625.35px;font-size:14.0px;color:#8c8c8c;">0</span>
<span class="t" style="left:1354.08px;top:627.35px;font-size:14.0px;letter-spacing:0.109px;">RIM0 79200</span>
<div class="a" style="left:1452px;top:617px;width:125px;height:26px;background:#e1e1e1;border:1px solid #adadad;"></div>
<span class="t" style="left:1465.13px;top:623.15px;font-size:14.0px;letter-spacing:0.075px;">Рассчитать ГО</span>
<span class="t" style="left:1587.70px;top:626.85px;font-size:14.0px;letter-spacing:0.360px;">-18879,68 п.</span>
<div class="a" style="left:1881px;top:617px;width:30px;height:26px;background:#e1e1e1;border:1px solid #adadad;"></div>
<div class="a" style="left:1891px;top:637px;width:9px;height:1px;background:#000;"></div>
<div class="a" style="left:8px;top:653px;width:1904px;height:190px;background:#f5f5f5;border:1px solid #000;"></div>
<div class="a" style="left:9px;top:654px;width:1902px;height:1px;background:#6e6e6e;"></div>
<div class="a" style="left:9px;top:655px;width:1px;height:38px;background:#6e6e6e;"></div>
<div class="a" style="left:1910px;top:655px;width:1px;height:38px;background:#6e6e6e;"></div>
<div class="a" style="left:9px;top:693px;width:1px;height:121px;background:#000;"></div>
<div class="a" style="left:1910px;top:693px;width:1px;height:121px;background:#000;"></div>
<div class="a" style="left:11px;top:656px;width:1899px;height:36.5px;background:#d3d3d3;"></div>
<div class="a" style="left:10px;top:692px;width:1900px;height:1px;background:#a9a9a9;"></div>
<div class="a" style="left:58px;top:657px;width:1px;height:34px;background:#bcbcbc;"></div>
<div class="a" style="left:59px;top:657px;width:1px;height:34px;background:#f2f2f2;"></div>
<div class="a" style="left:620px;top:657px;width:1px;height:34px;background:#bcbcbc;"></div>
<div class="a" style="left:621px;top:657px;width:1px;height:34px;background:#f2f2f2;"></div>
<div class="a" style="left:709px;top:657px;width:1px;height:34px;background:#bcbcbc;"></div>
<div class="a" style="left:710px;top:657px;width:1px;height:34px;background:#f2f2f2;"></div>
<div class="a" style="left:821px;top:657px;width:1px;height:34px;background:#bcbcbc;"></div>
<div class="a" style="left:822px;top:657px;width:1px;height:34px;background:#f2f2f2;"></div>
<div class="a" style="left:952px;top:657px;width:1px;height:34px;background:#bcbcbc;"></div>
<div class="a" style="left:953px;top:657px;width:1px;height:34px;background:#f2f2f2;"></div>
<div class="a" style="left:1044px;top:657px;width:1px;height:34px;background:#bcbcbc;"></div>
<div class="a" style="left:1045px;top:657px;width:1px;height:34px;background:#f2f2f2;"></div>
<div class="a" style="left:1148px;top:657px;width:1px;height:34px;background:#bcbcbc;"></div>
<div class="a" style="left:1149px;top:657px;width:1px;height:34px;background:#f2f2f2;"></div>
<div class="a" style="left:1311px;top:657px;width:1px;height:34px;background:#bcbcbc;"></div>
<div class="a" style="left:1312px;top:657px;width:1px;height:34px;background:#f2f2f2;"></div>
<div class="a" style="left:1448px;top:657px;width:1px;height:34px;background:#bcbcbc;"></div>
<div class="a" style="left:1449px;top:657px;width:1px;height:34px;background:#f2f2f2;"></div>
<div class="a" style="left:1514px;top:657px;width:1px;height:34px;background:#bcbcbc;"></div>
<div class="a" style="left:1515px;top:657px;width:1px;height:34px;background:#f2f2f2;"></div>
<div class="a" style="left:1628px;top:657px;width:1px;height:34px;background:#bcbcbc;"></div>
<div class="a" style="left:1629px;top:657px;width:1px;height:34px;background:#f2f2f2;"></div>
<div class="a" style="left:1691px;top:657px;width:1px;height:34px;background:#bcbcbc;"></div>
<div class="a" style="left:1692px;top:657px;width:1px;height:34px;background:#f2f2f2;"></div>
<div class="a" style="left:1760px;top:657px;width:1px;height:34px;background:#bcbcbc;"></div>
<div class="a" style="left:1761px;top:657px;width:1px;height:34px;background:#f2f2f2;"></div>
<div class="a" style="left:1818px;top:657px;width:1px;height:34px;background:#bcbcbc;"></div>
<div class="a" style="left:1819px;top:657px;width:1px;height:34px;background:#f2f2f2;"></div>
<div class="a" style="left:1884px;top:657px;width:1px;height:34px;background:#bcbcbc;"></div>
<div class="a" style="left:1885px;top:657px;width:1px;height:34px;background:#f2f2f2;"></div>
<div class="a" style="left:13px;top:660px;width:46px;height:30px;overflow:hidden">
<span class="t" style="left:-4.82px;top:8.35px;font-size:14.0px;letter-spacing:0.712px;">Расчет</span>
</div>
<span class="t" style="left:301.93px;top:668.35px;font-size:14.0px;letter-spacing:0.253px;">Код бумаги</span>
<span class="t" style="left:653.02px;top:659.05px;font-size:14.0px;letter-spacing:0.660px;">Тип</span>
<span class="t" style="left:636.99px;top:676.25px;font-size:14.0px;letter-spacing:0.261px;">опциона</span>
<span class="t" style="left:749.08px;top:659.05px;font-size:14.0px;letter-spacing:0.635px;">Дата</span>
<span class="t" style="left:729.20px;top:676.25px;font-size:14.0px;letter-spacing:0.355px;">погашения</span>
<span class="t" style="left:859.98px;top:659.05px;font-size:14.0px;letter-spacing:0.421px;">Дней до</span>
<span class="t" style="left:850.70px;top:676.25px;font-size:14.0px;letter-spacing:0.355px;">погашения</span>
<span class="t" style="left:958.68px;top:668.35px;font-size:14.0px;letter-spacing:0.457px;">Количество</span>
<span class="t" style="left:1078.43px;top:659.05px;font-size:14.0px;letter-spacing:0.650px;">Цена</span>
<span class="t" style="left:1064.99px;top:676.25px;font-size:14.0px;letter-spacing:0.584px;">открытия</span>
<span class="t" style="left:1179.18px;top:659.05px;font-size:14.0px;letter-spacing:0.234px;">Волатильность</span>
<span class="t" style="left:1198.49px;top:676.25px;font-size:14.0px;letter-spacing:0.584px;">открытия</span>
<span class="t" style="left:1329.42px;top:659.05px;font-size:14.0px;letter-spacing:0.424px;">Теоретическая</span>
<span class="t" style="left:1363.61px;top:676.25px;font-size:14.0px;letter-spacing:0.373px;">цена</span>
<span class="t" style="left:1455.08px;top:668.35px;font-size:14.0px;letter-spacing:0.237px;">Профит</span>
<span class="t" style="left:1520.68px;top:668.35px;font-size:14.0px;letter-spacing:0.234px;">Волатильность</span>
<span class="t" style="left:1635.63px;top:668.35px;font-size:14.0px;letter-spacing:0.481px;">Дельта</span>
<span class="t" style="left:1704.48px;top:668.35px;font-size:14.0px;letter-spacing:0.025px;">Гамма</span>
<span class="t" style="left:1773.88px;top:668.35px;font-size:14.0px;letter-spacing:0.230px;">Вега</span>
<span class="t" style="left:1836.22px;top:668.35px;font-size:14.0px;letter-spacing:0.132px;">Тета</span>
<span class="t" style="left:1891.96px;top:668.35px;font-size:14.0px;">X</span>
<div class="a" style="left:10px;top:717px;width:1900px;height:1px;background:#000;"></div>
<div class="a" style="left:10px;top:741px;width:1900px;height:1px;background:#000;"></div>
<div class="a" style="left:10px;top:765px;width:1900px;height:1px;background:#000;"></div>
<div class="a" style="left:10px;top:789px;width:1900px;height:1px;background:#000;"></div>
<div class="a" style="left:10px;top:813px;width:1900px;height:1px;background:#000;"></div>
<div class="a" style="left:59px;top:693px;width:1px;height:121px;background:#000;"></div>
<div class="a" style="left:621px;top:693px;width:1px;height:121px;background:#000;"></div>
<div class="a" style="left:710px;top:693px;width:1px;height:121px;background:#000;"></div>
<div class="a" style="left:822px;top:693px;width:1px;height:121px;background:#000;"></div>
<div class="a" style="left:953px;top:693px;width:1px;height:121px;background:#000;"></div>
<div class="a" style="left:1045px;top:693px;width:1px;height:121px;background:#000;"></div>
<div class="a" style="left:1149px;top:693px;width:1px;height:121px;background:#000;"></div>
<div class="a" style="left:1312px;top:693px;width:1px;height:121px;background:#000;"></div>
<div class="a" style="left:1449px;top:693px;width:1px;height:121px;background:#000;"></div>
<div class="a" style="left:1515px;top:693px;width:1px;height:121px;background:#000;"></div>
<div class="a" style="left:1629px;top:693px;width:1px;height:121px;background:#000;"></div>
<div class="a" style="left:1692px;top:693px;width:1px;height:121px;background:#000;"></div>
<div class="a" style="left:1761px;top:693px;width:1px;height:121px;background:#000;"></div>
<div class="a" style="left:1819px;top:693px;width:1px;height:121px;background:#000;"></div>
<div class="a" style="left:1885px;top:693px;width:1px;height:121px;background:#000;"></div>
<div class="a" style="left:1450px;top:693px;width:65px;height:24px;background:#90ee90;"></div>
<div class="a" style="left:28px;top:698px;width:13px;height:13px;background:#ffffff;border:1px solid #333333;"></div>
<svg width="13" height="13" viewBox="0 0 13 13" style="left:28px;top:698px"><path d="M2.2 6.5 L5.4 9.6 L11 3.0" fill="none" stroke="#2a2a2a" stroke-width="1.25"/></svg>
<span class="t" style="left:289.63px;top:698.75px;font-size:14.0px;letter-spacing:0.065px;">RI105000BC0D</span>
<span class="t" style="left:652.55px;top:698.75px;font-size:14.0px;letter-spacing:0.132px;">Call</span>
<span class="t" style="left:728.55px;top:698.75px;font-size:14.0px;letter-spacing:0.355px;">26.03.2020</span>
<span class="t" style="left:882.80px;top:698.75px;font-size:14.0px;">8</span>
<span class="t" style="left:989.94px;top:698.75px;font-size:14.0px;letter-spacing:0.488px;">15</span>
<span class="t" style="left:1084.12px;top:698.75px;font-size:14.0px;letter-spacing:0.388px;">840</span>
<span class="t" style="left:1211.39px;top:698.75px;font-size:14.0px;letter-spacing:0.292px;">145,5</span>
<span class="t" style="left:1357.59px;top:698.75px;font-size:14.0px;letter-spacing:0.291px;">888,45</span>
<span class="t" style="left:1459.04px;top:698.75px;font-size:14.0px;letter-spacing:0.290px;">726,75</span>
<span class="t" style="left:1548.89px;top:698.75px;font-size:14.0px;letter-spacing:0.288px;">147,66</span>
<span class="t" style="left:1645.32px;top:698.75px;font-size:14.0px;letter-spacing:0.301px;">1,74</span>
<span class="t" style="left:1695.63px;top:698.75px;font-size:14.0px;letter-spacing:0.285px;">0,000171</span>
<span class="t" style="left:1767.18px;top:698.75px;font-size:14.0px;letter-spacing:0.291px;">340,02</span>
<span class="t" style="left:1822.71px;top:698.75px;font-size:14.0px;letter-spacing:0.269px;">-3203,32</span>
<div class="a" style="left:1887px;top:694px;width:22px;height:22px;background:#e1e1e1;border:1px solid #b4b4b4;"></div>
<span class="t" style="left:1892.31px;top:698.75px;font-size:14.0px;">X</span>
<div class="a" style="left:1450px;top:718px;width:65px;height:23px;background:#90ee90;"></div>
<div class="a" style="left:28px;top:723px;width:13px;height:13px;background:#ffffff;border:1px solid #333333;"></div>
<svg width="13" height="13" viewBox="0 0 13 13" style="left:28px;top:723px"><path d="M2.2 6.5 L5.4 9.6 L11 3.0" fill="none" stroke="#2a2a2a" stroke-width="1.25"/></svg>
<span class="t" style="left:294.03px;top:722.75px;font-size:14.0px;letter-spacing:0.189px;">RI105000BD0</span>
<span class="t" style="left:652.55px;top:722.75px;font-size:14.0px;letter-spacing:0.132px;">Call</span>
<span class="t" style="left:728.95px;top:722.75px;font-size:14.0px;letter-spacing:0.227px;">16.04.2020</span>
<span class="t" style="left:878.65px;top:722.75px;font-size:14.0px;letter-spacing:0.497px;">29</span>
<span class="t" style="left:991.68px;top:722.75px;font-size:14.0px;letter-spacing:0.401px;">-4</span>
<span class="t" style="left:1080.13px;top:722.75px;font-size:14.0px;letter-spacing:0.350px;">3620</span>
<span class="t" style="left:1207.37px;top:722.75px;font-size:14.0px;letter-spacing:0.288px;">122,65</span>
<span class="t" style="left:1353.53px;top:722.75px;font-size:14.0px;letter-spacing:0.287px;">2756,23</span>
<span class="t" style="left:1455.10px;top:722.75px;font-size:14.0px;letter-spacing:0.288px;">3455,08</span>
<span class="t" style="left:1548.92px;top:722.75px;font-size:14.0px;letter-spacing:0.287px;">110,21</span>
<span class="t" style="left:1647.28px;top:722.75px;font-size:14.0px;letter-spacing:0.267px;">-0,9</span>
<span class="t" style="left:1697.95px;top:722.75px;font-size:14.0px;letter-spacing:0.262px;">-4,9E-05</span>
<span class="t" style="left:1764.68px;top:722.75px;font-size:14.0px;letter-spacing:0.270px;">-266,58</span>
<span class="t" style="left:1829.01px;top:722.75px;font-size:14.0px;letter-spacing:0.293px;">510,44</span>
<div class="a" style="left:1886px;top:718px;width:24px;height:23px;background:#e1e1e1;border:2px solid #0078d7;"></div>
<span class="t" style="left:1892.31px;top:722.75px;font-size:14.0px;">X</span>
<div class="a" style="left:1450px;top:742px;width:65px;height:23px;background:#90ee90;"></div>
<div class="a" style="left:28px;top:747px;width:13px;height:13px;background:#ffffff;border:1px solid #333333;"></div>
<svg width="13" height="13" viewBox="0 0 13 13" style="left:28px;top:747px"><path d="M2.2 6.5 L5.4 9.6 L11 3.0" fill="none" stroke="#2a2a2a" stroke-width="1.25"/></svg>
<span class="t" style="left:294.03px;top:746.75px;font-size:14.0px;letter-spacing:0.189px;">RI110000BD0</span>
<span class="t" style="left:652.55px;top:746.75px;font-size:14.0px;letter-spacing:0.132px;">Call</span>
<span class="t" style="left:728.95px;top:746.75px;font-size:14.0px;letter-spacing:0.227px;">16.04.2020</span>
<span class="t" style="left:878.65px;top:746.75px;font-size:14.0px;letter-spacing:0.497px;">29</span>
<span class="t" style="left:991.68px;top:746.75px;font-size:14.0px;letter-spacing:0.401px;">-4</span>
<span class="t" style="left:1080.13px;top:746.75px;font-size:14.0px;letter-spacing:0.350px;">3120</span>
<span class="t" style="left:1207.37px;top:746.75px;font-size:14.0px;letter-spacing:0.288px;">126,05</span>
<span class="t" style="left:1353.52px;top:746.75px;font-size:14.0px;letter-spacing:0.287px;">2036,48</span>
<span class="t" style="left:1455.20px;top:746.75px;font-size:14.0px;letter-spacing:0.290px;">4334,08</span>
<span class="t" style="left:1548.89px;top:746.75px;font-size:14.0px;letter-spacing:0.288px;">108,76</span>
<span class="t" style="left:1643.27px;top:746.75px;font-size:14.0px;letter-spacing:0.268px;">-0,71</span>
<span class="t" style="left:1697.95px;top:746.75px;font-size:14.0px;letter-spacing:0.262px;">-4,3E-05</span>
<span class="t" style="left:1768.70px;top:746.75px;font-size:14.0px;letter-spacing:0.269px;">-231,8</span>
<span class="t" style="left:1829.26px;top:746.75px;font-size:14.0px;letter-spacing:0.293px;">437,99</span>
<div class="a" style="left:1887px;top:742px;width:22px;height:22px;background:#e1e1e1;border:1px solid #b4b4b4;"></div>
<span class="t" style="left:1892.31px;top:746.75px;font-size:14.0px;">X</span>
<div class="a" style="left:1450px;top:766px;width:65px;height:23px;background:#ffb6c1;"></div>
<div class="a" style="left:28px;top:771px;width:13px;height:13px;background:#ffffff;border:1px solid #333333;"></div>
<svg width="13" height="13" viewBox="0 0 13 13" style="left:28px;top:771px"><path d="M2.2 6.5 L5.4 9.6 L11 3.0" fill="none" stroke="#2a2a2a" stroke-width="1.25"/></svg>
<span class="t" style="left:304.93px;top:770.75px;font-size:14.0px;letter-spacing:0.064px;">FixedProfit</span>
<span class="t" style="left:1458.67px;top:770.75px;font-size:14.0px;letter-spacing:0.297px;">-18300</span>
<div class="a" style="left:1887px;top:766px;width:22px;height:22px;background:#e1e1e1;border:1px solid #b4b4b4;"></div>
<span class="t" style="left:1892.31px;top:770.75px;font-size:14.0px;">X</span>
<div class="a" style="left:1450px;top:790px;width:65px;height:23px;background:#ffb6c1;"></div>
<div class="a" style="left:28px;top:795px;width:13px;height:13px;background:#ffffff;border:1px solid #333333;"></div>
<svg width="13" height="13" viewBox="0 0 13 13" style="left:28px;top:795px"><path d="M2.2 6.5 L5.4 9.6 L11 3.0" fill="none" stroke="#2a2a2a" stroke-width="1.25"/></svg>
<span class="t" style="left:317.33px;top:794.75px;font-size:14.0px;letter-spacing:0.572px;">Итого:</span>
<span class="t" style="left:1452.69px;top:794.75px;font-size:14.0px;letter-spacing:0.270px;">-9784,09</span>
<span class="t" style="left:1645.68px;top:794.75px;font-size:14.0px;letter-spacing:0.304px;">0,13</span>
<span class="t" style="left:1700.31px;top:794.75px;font-size:14.0px;letter-spacing:0.278px;">7,9E-05</span>
<span class="t" style="left:1764.70px;top:794.75px;font-size:14.0px;letter-spacing:0.269px;">-158,36</span>
<span class="t" style="left:1822.69px;top:794.75px;font-size:14.0px;letter-spacing:0.270px;">-2254,89</span>
<div class="a" style="left:1887px;top:790px;width:22px;height:22px;background:#e1e1e1;border:1px solid #b4b4b4;"></div>
<span class="t" style="left:1892.31px;top:794.75px;font-size:14.0px;">X</span>
<div class="a" style="left:1795px;top:807px;width:125px;height:22px;background:#ffffff;"></div>
<span class="t" style="left:1811.69px;top:808.89px;font-size:16.2px;letter-spacing:-0.336px;color:#55a9e8;font-weight:bold;">clip</span>
<span class="t" style="left:1847.55px;top:808.89px;font-size:16.2px;letter-spacing:-0.322px;color:#55a9e8;font-weight:bold;">net</span>
<span class="t" style="left:1873.21px;top:808.89px;font-size:16.2px;letter-spacing:-1.827px;color:#c3c7d4;font-weight:bold;">.com</span>
<svg width="1920" height="829"><defs><linearGradient id="wg" x1="0.1" y1="0.1" x2="0.85" y2="0.9"><stop offset="0" stop-color="#86cc3a"/><stop offset="0.45" stop-color="#f2c81e"/><stop offset="1" stop-color="#f78a1c"/></linearGradient></defs><circle cx="1842.6" cy="818.2" r="8.3" fill="url(#wg)"/></svg>
<span class="t" style="left:1838.44px;top:810.48px;font-size:15.5px;color:#ffffff;font-weight:bold;">2</span>
</body></html>
